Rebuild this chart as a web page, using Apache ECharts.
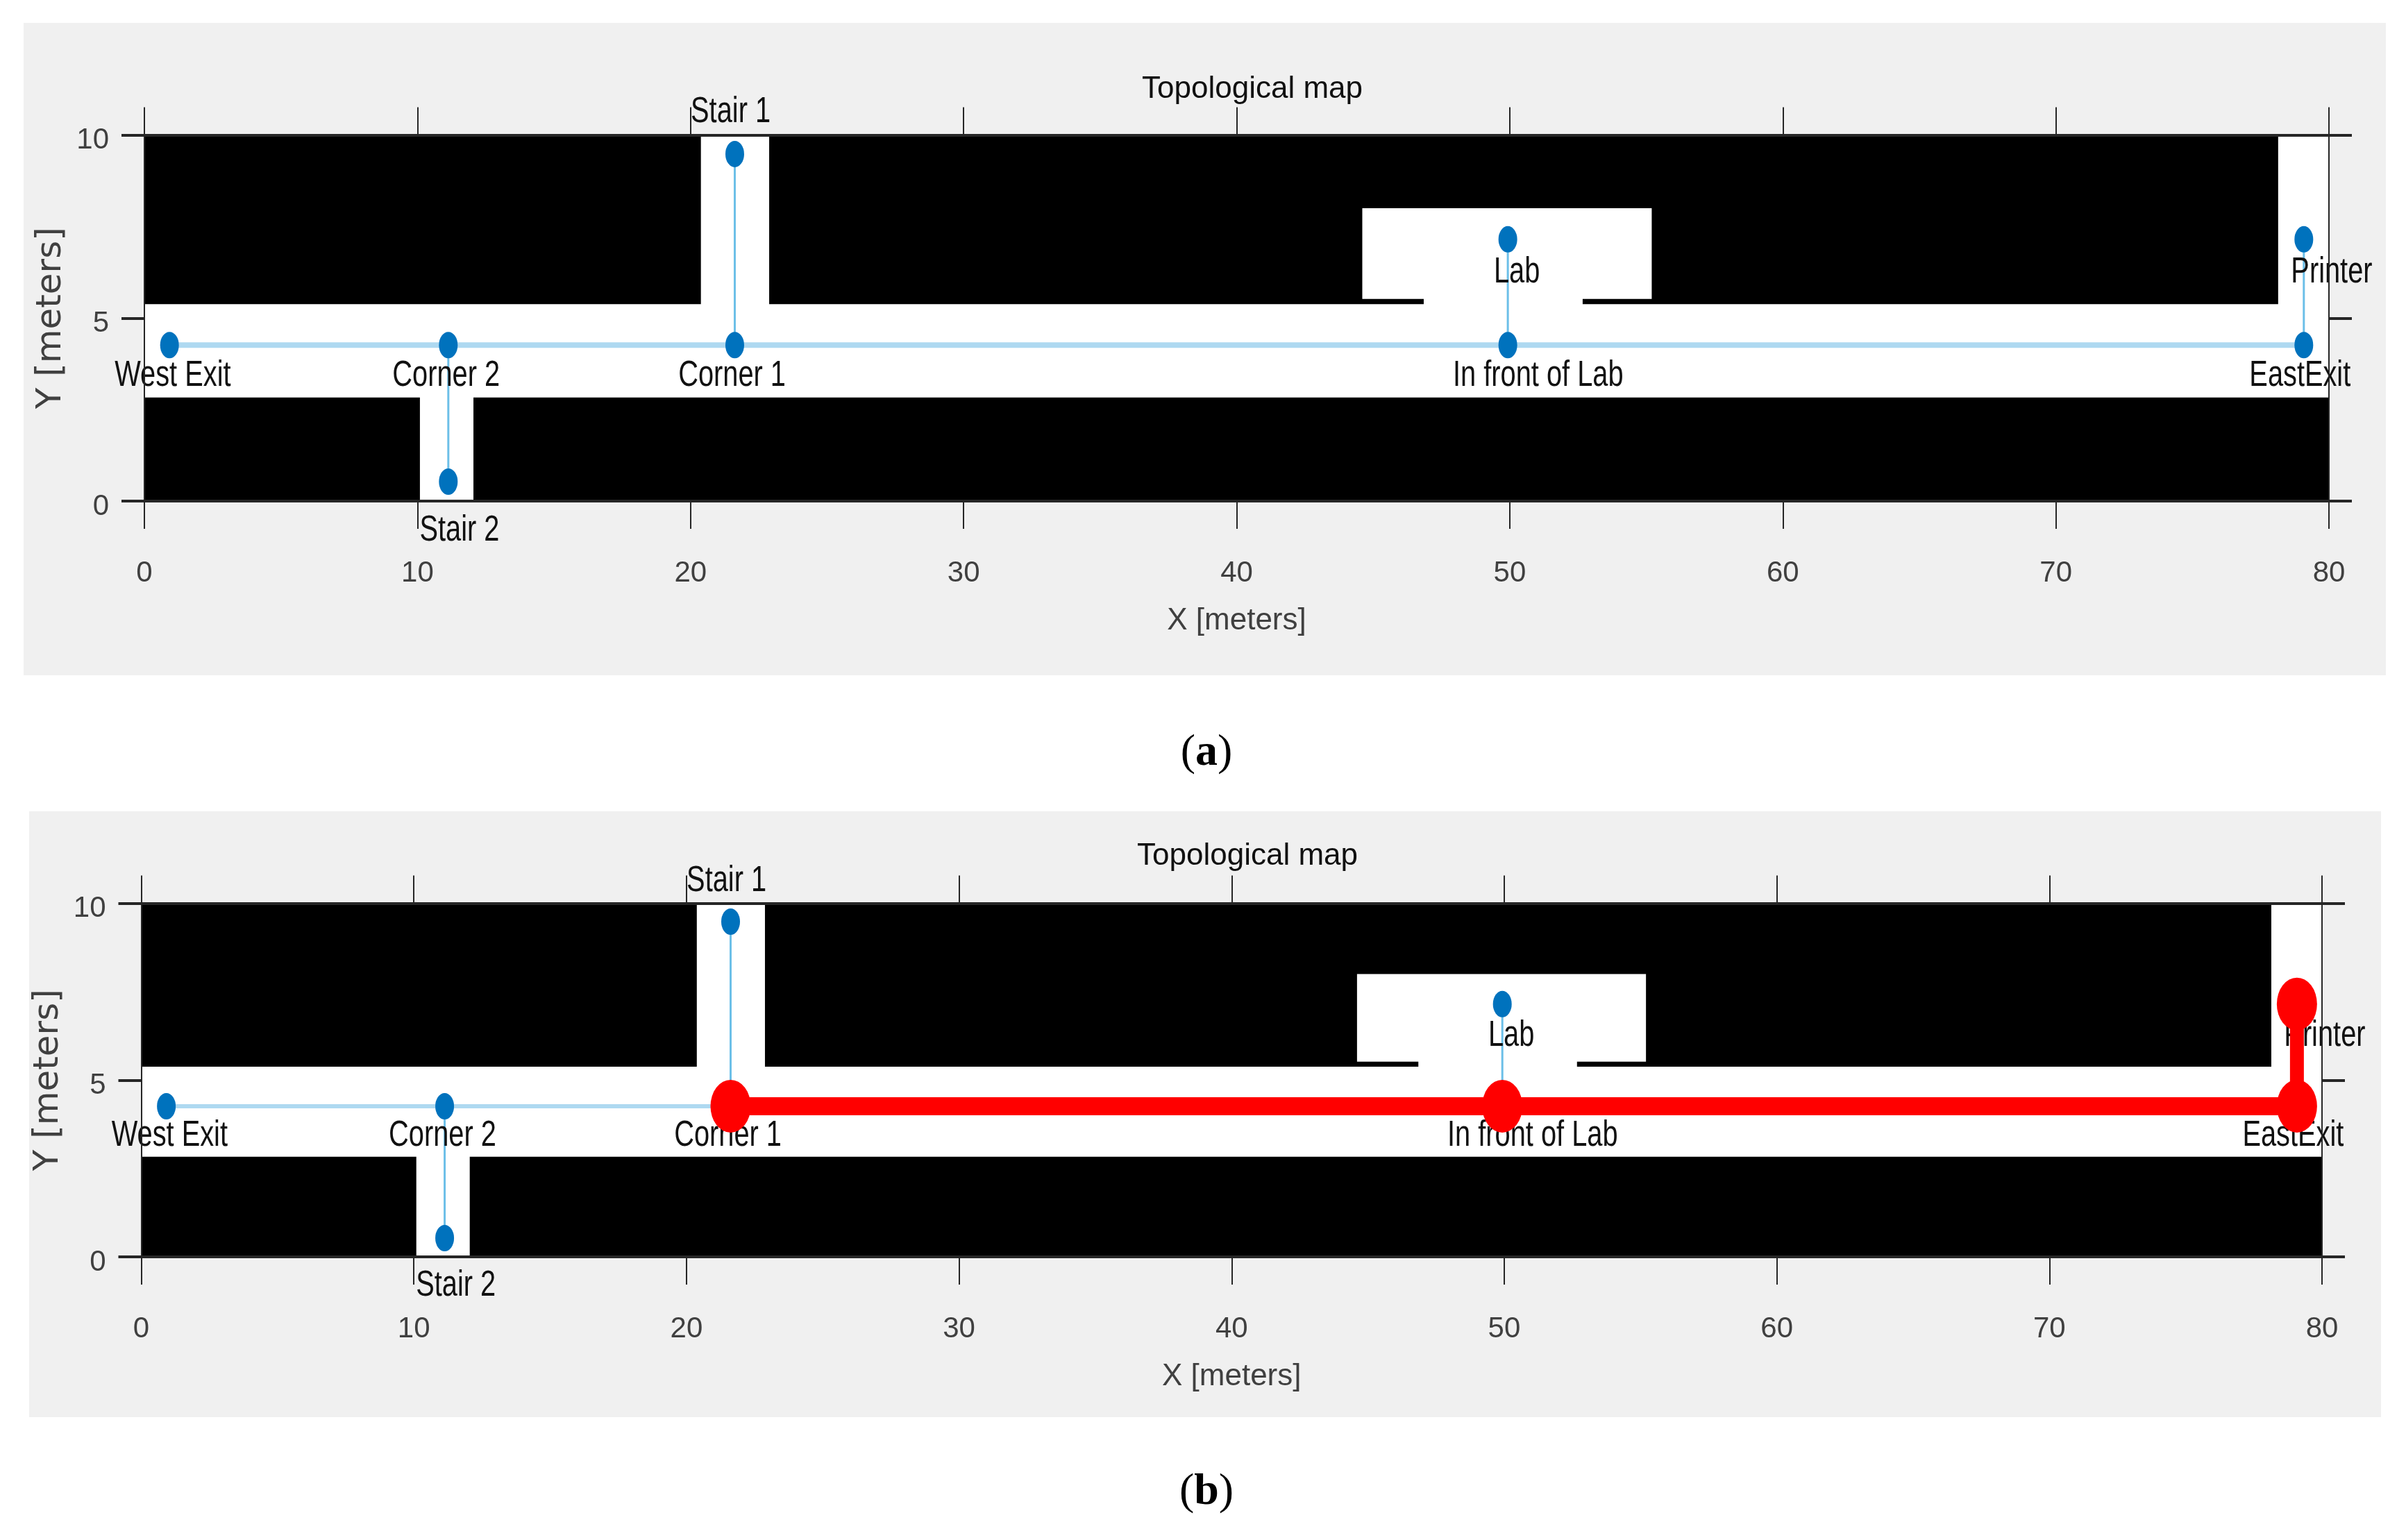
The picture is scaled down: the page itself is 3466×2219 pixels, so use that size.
<!DOCTYPE html>
<html><head><meta charset="utf-8">
<style>html,body{margin:0;padding:0;background:#fff}#c{width:3466px;height:2219px}</style>
<script src="https://cdn.jsdelivr.net/npm/echarts@6/dist/echarts.min.js"></script>
</head><body><div id="c"></div>
<script>
// Map geometry, metres: [x0, x1, y0, y1]
const walls = [
  [0, 20.38, 5.38, 10],
  [22.88, 78.14, 5.38, 10],
  [0, 10.09, 0, 2.83],
  [12.05, 80, 0, 2.83]
];
const rooms = [
  [44.6, 55.2, 5.52, 8.0],
  [46.85, 52.67, 5.3, 5.6]
];
// Topological nodes
const nodeNames = ['West Exit', 'Corner 2', 'Corner 1', 'In front of Lab', 'EastExit', 'Stair 1', 'Stair 2', 'Lab', 'Printer'];
const nodeX = [0.92, 11.13, 21.62, 49.93, 79.08, 21.62, 11.13, 49.93, 79.08];
const nodeY = [4.26, 4.26, 4.26, 4.26, 4.26, 9.48, 0.53, 7.15, 7.15];
// Label centres, metres
const labelX = [1.04, 11.05, 21.52, 51.04, 78.94, 21.47, 11.54, 50.26, 80.1];
const labelY = [3.41, 3.41, 3.41, 3.41, 3.41, 10.61, -0.82, 6.24, 6.24];
// Edges
const corridorEdges = [['West Exit', 'Corner 2'], ['Corner 2', 'Corner 1'], ['Corner 1', 'In front of Lab'], ['In front of Lab', 'EastExit']];
const branchEdges = [['Corner 1', 'Stair 1'], ['Corner 2', 'Stair 2'], ['In front of Lab', 'Lab'], ['EastExit', 'Printer']];
const routeB = ['Corner 1', 'In front of Lab', 'EastExit', 'Printer'];
const xAxisRange = [0, 80];
const xAxisStep = 10;
const yAxisRange = [0, 10];
const yAxisStep = 5;

const pt = n => { const i = nodeNames.indexOf(n); return [nodeX[i], nodeY[i]]; };
const FONT = '"Liberation Sans",sans-serif';
const TICK = '#404040', AX = '#262626';

const panels = [
  {bg: [34, 33, 3403, 940], grid: {left: 208, top: 194.5, width: 3147, height: 527.5},
   titleX: 1799, titleY: 102, capY: 1048, cap: 'a', band: 8, route: []},
  {bg: [42, 1169, 3388, 873], grid: {left: 203.5, top: 1301.5, width: 3141.5, height: 509.5},
   titleX: 1792, titleY: 1207, capY: 2113, cap: 'b', band: 6, route: routeB}
];

function rectRenderer(fill) {
  return (params, api) => {
    const a = api.coord([api.value(0), api.value(3)]);
    const b = api.coord([api.value(1), api.value(2)]);
    return {type: 'rect', shape: {x: a[0], y: a[1], width: b[0] - a[0], height: b[1] - a[1]}, style: {fill}};
  };
}
function labelRenderer(params, api) {
  const c = api.coord([api.value(0), api.value(1)]);
  return {type: 'text', x: c[0], y: c[1], scaleX: 0.78, style: {
    text: nodeNames[params.dataIndex], x: 0, y: 0, fill: '#111', fontFamily: FONT, fontSize: 51,
    textAlign: 'center', textVerticalAlign: 'middle'}};
}

const grids = [], xAxes = [], yAxes = [], series = [], titles = [], graphics = [];
panels.forEach((p, k) => {
  grids.push({...p.grid, show: true, backgroundColor: '#fff', borderWidth: 0, containLabel: false});
  graphics.push({type: 'rect', z: -100, shape: {x: p.bg[0], y: p.bg[1], width: p.bg[2], height: p.bg[3]}, style: {fill: '#f0f0f0'}});
  ['bottom', 'top'].forEach((pos, j) => xAxes.push({
    type: 'value', gridIndex: k, position: pos, min: xAxisRange[0], max: xAxisRange[1], interval: xAxisStep,
    splitLine: {show: false}, z: 8,
    axisLine: {show: true, onZero: false, lineStyle: {color: AX, width: 4}},
    axisTick: {show: true, length: 40, lineStyle: {color: AX, width: 2}},
    axisLabel: {show: j === 0, margin: 83, color: TICK, fontFamily: FONT, fontSize: 42},
    name: j === 0 ? 'X [meters]' : '', nameLocation: 'middle', nameGap: 151,
    nameTextStyle: {color: TICK, fontFamily: FONT, fontSize: 44}
  }));
  ['left', 'right'].forEach((pos, j) => yAxes.push({
    type: 'value', gridIndex: k, position: pos, min: yAxisRange[0], max: yAxisRange[1], interval: yAxisStep,
    splitLine: {show: false}, z: 8,
    axisLine: {show: true, onZero: false, lineStyle: {color: AX, width: 2}},
    axisTick: {show: true, length: 33, lineStyle: {color: AX, width: 4}},
    axisLabel: {show: j === 0, margin: 51, verticalAlign: 'top', lineHeight: 16, color: TICK, fontFamily: FONT, fontSize: 42},
    name: j === 0 ? 'Y [meters]' : '', nameLocation: 'middle', nameGap: 100,
    nameTextStyle: {color: TICK, fontFamily: '"DejaVu Sans",sans-serif', fontSize: 50}
  }));
  const ax = {xAxisIndex: k * 2, yAxisIndex: k * 2, animation: false, silent: true};
  const enc = {x: [0, 1], y: [2, 3]};
  series.push({type: 'custom', ...ax, z: 1, clip: false, data: walls, encode: enc, renderItem: rectRenderer('#000')});
  series.push({type: 'custom', ...ax, z: 2, clip: false, data: rooms, encode: enc, renderItem: rectRenderer('#fff')});
  corridorEdges.forEach(e => series.push({type: 'line', ...ax, z: 3, clip: false, symbol: 'none',
    data: e.map(pt), lineStyle: {color: '#aed9f1', width: p.band}}));
  branchEdges.forEach(e => series.push({type: 'line', ...ax, z: 3, clip: false, symbol: 'none',
    data: e.map(pt), lineStyle: {color: '#6cbfe8', width: 3}}));
  series.push({type: 'scatter', ...ax, z: 4, clip: false, symbol: 'circle', symbolSize: [27, 38],
    data: nodeX.map((x, i) => [x, nodeY[i]]), itemStyle: {color: '#0072bd', opacity: 1}});
  series.push({type: 'custom', ...ax, z: 5, clip: false, encode: {x: 0, y: 1},
    data: labelX.map((x, i) => [x, labelY[i]]), renderItem: labelRenderer});
  if (p.route.length) {
    series.push({type: 'line', ...ax, z: 6, clip: false, symbol: 'none', data: p.route.slice(0, 3).map(pt),
      lineStyle: {color: '#ff0000', width: 26}});
    series.push({type: 'line', ...ax, z: 6, clip: false, symbol: 'none', data: p.route.slice(2).map(pt),
      lineStyle: {color: '#ff0000', width: 20}});
    series.push({type: 'scatter', ...ax, z: 7, clip: false, symbol: 'circle', symbolSize: [58, 76],
      data: p.route.map(pt), itemStyle: {color: '#ff0000', opacity: 1}});
  }
  titles.push({text: 'Topological map', left: p.titleX, top: p.titleY, textAlign: 'center',
    textStyle: {color: '#111', fontFamily: FONT, fontSize: 44, fontWeight: 'normal'}});
  titles.push({text: '({b|' + p.cap + '})', left: 1733, top: p.capY, textAlign: 'center',
    textStyle: {color: '#000', fontFamily: '"Liberation Serif",serif', fontSize: 64, fontWeight: 'normal',
      rich: {b: {fontFamily: '"Liberation Serif",serif', fontSize: 64, fontWeight: 'bold', color: '#000'}}}});
});

const chart = echarts.init(document.getElementById('c'), null, {width: 3466, height: 2219});
chart.setOption({
  animation: false, backgroundColor: '#fff', tooltip: {show: false},
  title: titles, grid: grids, xAxis: xAxes, yAxis: yAxes, series, graphic: graphics
});
</script>
</body></html>
